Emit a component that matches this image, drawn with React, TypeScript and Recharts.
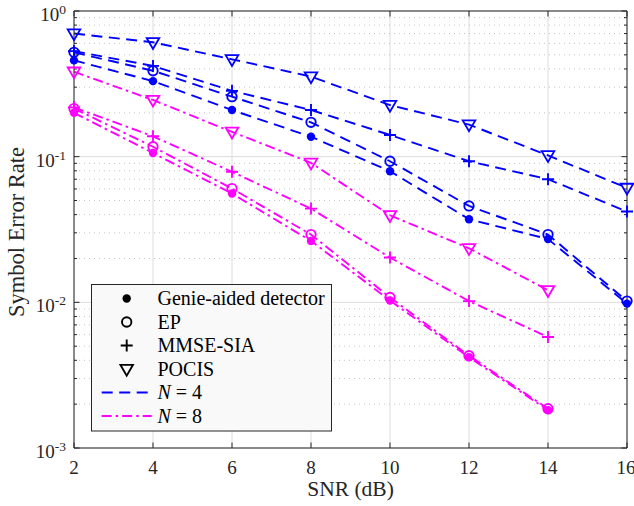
import React from 'react';
import { LineChart, Line, XAxis, YAxis, CartesianGrid, ReferenceLine, Legend, Label } from 'recharts';

const snr = [2, 4, 6, 8, 10, 12, 14, 16];
const genie4 = [0.458, 0.33, 0.209, 0.137, 0.0795, 0.0372, 0.0272, 0.0098];
const ep4 = [0.52, 0.389, 0.258, 0.172, 0.093, 0.0459, 0.0292, 0.0102];
const mmse4 = [0.53, 0.42, 0.283, 0.209, 0.141, 0.093, 0.07, 0.042];
const pocis4 = [0.7, 0.61, 0.466, 0.355, 0.226, 0.166, 0.102, 0.061];
const genie8 = [0.2, 0.106, 0.0558, 0.0264, 0.0103, 0.0042, 0.00182];
const ep8 = [0.214, 0.117, 0.0604, 0.0292, 0.0108, 0.0043, 0.00186];
const mmse8 = [0.218, 0.138, 0.0787, 0.044, 0.0203, 0.0102, 0.00578];
const pocis8 = [0.383, 0.245, 0.148, 0.0907, 0.0396, 0.0235, 0.0121];

const yTicks = [0.001, 0.01, 0.1, 1];
const yTickExp = ['-3', '-2', '-1', '0'];
const yMinor = [
  0.002, 0.003, 0.004, 0.005, 0.006, 0.007, 0.008, 0.009,
  0.02, 0.03, 0.04, 0.05, 0.06, 0.07, 0.08, 0.09,
  0.2, 0.3, 0.4, 0.5, 0.6, 0.7, 0.8, 0.9,
];
const legendMarkers = ['Genie-aided detector', 'EP', 'MMSE-SIA', 'POCIS'];

const data = snr.map((s, i) => ({
  snr: s,
  genie4: genie4[i],
  ep4: ep4[i],
  mmse4: mmse4[i],
  pocis4: pocis4[i],
  genie8: genie8[i],
  ep8: ep8[i],
  mmse8: mmse8[i],
  pocis8: pocis8[i],
}));

const BLUE = '#0000ff';
const MAGENTA = '#ff00ff';
const AXIS = '#262626';
const FONT = '"Liberation Serif", "Times New Roman", serif';
const DASH4 = '11 6.5';
const DASH8 = '10 4 2.5 4';
const LW = 1.9;

const X0 = 2, X1 = 16;
const PLOT_W = 553, PLOT_H = 437;
const xPerPx = (X1 - X0) / PLOT_W;
const decPerPx = 3 / PLOT_H;
const MAJ = 5.5, MIN = 3;

type Kind = 'dot' | 'circle' | 'plus' | 'tri';

function Marker({ kind, cx, cy, color }: { kind: Kind; cx: number; cy: number; color: string }) {
  if (kind === 'dot') return <circle cx={cx} cy={cy} r={4.2} fill={color} stroke="none" />;
  if (kind === 'circle') return <circle cx={cx} cy={cy} r={4.7} fill="none" stroke={color} strokeWidth={1.9} />;
  if (kind === 'plus')
    return (
      <path d={`M${cx - 6},${cy}H${cx + 6}M${cx},${cy - 6}V${cy + 6}`} stroke={color} strokeWidth={1.9} fill="none" />
    );
  return (
    <path d={`M${cx - 6.3},${cy - 4.2}L${cx + 6.3},${cy - 4.2}L${cx},${cy + 6.6}Z`} stroke={color} strokeWidth={1.8} fill="none" strokeLinejoin="miter" />
  );
}

const makeDot = (kind: Kind, color: string, name: string) => (props: any) => {
  const { cx, cy, index, value } = props;
  if (cx == null || cy == null || value == null || Number.isNaN(cy)) return <g key={`${name}-${index}`} />;
  return (
    <g key={`${name}-${index}`}>
      <Marker kind={kind} cx={cx} cy={cy} color={color} />
    </g>
  );
};

const YTick = (props: any) => {
  const { x, y, payload } = props;
  const exp = yTickExp[yTicks.indexOf(payload.value)];
  return (
    <text x={x} y={y + 10} textAnchor="end" fontFamily={FONT} fontSize={19} fill={AXIS}>
      <tspan>10</tspan>
      <tspan dy={-7} fontSize={13.5}>{exp}</tspan>
    </text>
  );
};

const XTick = (props: any) => {
  const { x, y, payload } = props;
  return (
    <text x={x} y={y + 25.5} textAnchor="middle" fontFamily={FONT} fontSize={19} fill={AXIS}>
      {payload.value}
    </text>
  );
};

const LegendBox = () => {
  const kinds: Kind[] = ['dot', 'circle', 'plus', 'tri'];
  const rowY = (i: number) => 14.5 + i * 23.5;
  return (
    <svg width={242} height={148} style={{ display: 'block' }}>
      <rect x={0.5} y={0.5} width={240} height={146.5} fill="#f9f9f9" stroke={AXIS} strokeWidth={1} />
      {legendMarkers.map((t, i) => (
        <g key={t}>
          <Marker kind={kinds[i]} cx={35.7} cy={rowY(i)} color="#000000" />
          <text x={66.5} y={rowY(i) + 6.5} fontFamily={FONT} fontSize={20} fill="#000">{t}</text>
        </g>
      ))}
      <line x1={10.7} x2={60.7} y1={rowY(4)} y2={rowY(4)} stroke={BLUE} strokeWidth={LW} strokeDasharray={DASH4} />
      <text x={66.5} y={rowY(4) + 6.5} fontFamily={FONT} fontSize={20} fill="#000">
        <tspan fontStyle="italic">N</tspan> = 4
      </text>
      <line x1={10.7} x2={60.7} y1={rowY(5)} y2={rowY(5)} stroke={MAGENTA} strokeWidth={LW} strokeDasharray={DASH8} />
      <text x={66.5} y={rowY(5) + 6.5} fontFamily={FONT} fontSize={20} fill="#000">
        <tspan fontStyle="italic">N</tspan> = 8
      </text>
    </svg>
  );
};

export default function App() {
  const series: { key: string; kind: Kind; color: string; dash: string }[] = [
    { key: 'pocis8', kind: 'tri', color: MAGENTA, dash: DASH8 },
    { key: 'mmse8', kind: 'plus', color: MAGENTA, dash: DASH8 },
    { key: 'ep8', kind: 'circle', color: MAGENTA, dash: DASH8 },
    { key: 'genie8', kind: 'dot', color: MAGENTA, dash: DASH8 },
    { key: 'pocis4', kind: 'tri', color: BLUE, dash: DASH4 },
    { key: 'mmse4', kind: 'plus', color: BLUE, dash: DASH4 },
    { key: 'ep4', kind: 'circle', color: BLUE, dash: DASH4 },
    { key: 'genie4', kind: 'dot', color: BLUE, dash: DASH4 },
  ];
  const majT = Math.pow(10, MAJ * decPerPx);
  const minXR = MIN * xPerPx;
  const majXR = MAJ * xPerPx;
  return (
    <div style={{ position: 'absolute', left: 0, top: 0, background: '#fff' }}>
      <LineChart width={634} height={506} data={data} margin={{ top: 11, right: 7, left: 0, bottom: 0 }}>
        <CartesianGrid stroke="#dcdcdc" strokeWidth={1} horizontal={true} vertical={true} />
        {yMinor.map((v) => (
          <ReferenceLine key={`mg-${v}`} y={v} stroke="#c4c4c4" strokeWidth={1} strokeDasharray="1 4" ifOverflow="hidden" />
        ))}
        <XAxis
          dataKey="snr"
          type="number"
          domain={[X0, X1]}
          ticks={snr}
          height={58}
          tickSize={0}
          tickMargin={0}
          tickLine={false}
          axisLine={{ stroke: AXIS, strokeWidth: 1 }}
          tick={<XTick />}
        >
          <Label
            content={() => (
              <text x={350.5} y={495.5} textAnchor="middle" fontFamily={FONT} fontSize={21.5} fill={AXIS}>
                SNR (dB)
              </text>
            )}
          />
        </XAxis>
        <YAxis
          type="number"
          scale="log"
          domain={[0.001, 1]}
          ticks={yTicks}
          width={74}
          tickSize={0}
          tickMargin={8}
          tickLine={false}
          axisLine={{ stroke: AXIS, strokeWidth: 1 }}
          tick={<YTick />}
        >
          <Label
            content={() => (
              <text x={23.5} y={232} textAnchor="middle" transform="rotate(-90, 23.5, 232)" fontFamily={FONT} fontSize={22.5} fill={AXIS}>
                Symbol Error Rate
              </text>
            )}
          />
        </YAxis>
        {series.map((s) => (
          <Line
            key={s.key}
            dataKey={s.key}
            stroke={s.color}
            strokeWidth={LW}
            strokeDasharray={s.dash}
            dot={makeDot(s.kind, s.color, s.key)}
            activeDot={false}
            isAnimationActive={false}
            connectNulls={false}
            type="linear"
          />
        ))}
        <ReferenceLine y={1} stroke={AXIS} strokeWidth={1} ifOverflow="visible" />
        <ReferenceLine x={X1} stroke={AXIS} strokeWidth={1} ifOverflow="visible" />
        {snr.map((v) => (
          <ReferenceLine key={`xb-${v}`} segment={[{ x: v, y: 0.001 }, { x: v, y: 0.001 * majT }]} stroke={AXIS} ifOverflow="visible" />
        ))}
        {snr.map((v) => (
          <ReferenceLine key={`xt-${v}`} segment={[{ x: v, y: 1 }, { x: v, y: 1 / majT }]} stroke={AXIS} ifOverflow="visible" />
        ))}
        {yTicks.map((v) => (
          <ReferenceLine key={`yl-${v}`} segment={[{ x: X0, y: v }, { x: X0 + majXR, y: v }]} stroke={AXIS} ifOverflow="visible" />
        ))}
        {yTicks.map((v) => (
          <ReferenceLine key={`yr-${v}`} segment={[{ x: X1, y: v }, { x: X1 - majXR, y: v }]} stroke={AXIS} ifOverflow="visible" />
        ))}
        {yMinor.map((v) => (
          <ReferenceLine key={`ml-${v}`} segment={[{ x: X0, y: v }, { x: X0 + minXR, y: v }]} stroke={AXIS} ifOverflow="visible" />
        ))}
        {yMinor.map((v) => (
          <ReferenceLine key={`mr-${v}`} segment={[{ x: X1, y: v }, { x: X1 - minXR, y: v }]} stroke={AXIS} ifOverflow="visible" />
        ))}
        <Legend
          layout="horizontal"
          verticalAlign="middle"
          align="center"
          content={() => <LegendBox />}
          wrapperStyle={{ position: 'absolute', left: 91, top: 284, width: 242, height: 148 }}
        />
      </LineChart>
    </div>
  );
}
